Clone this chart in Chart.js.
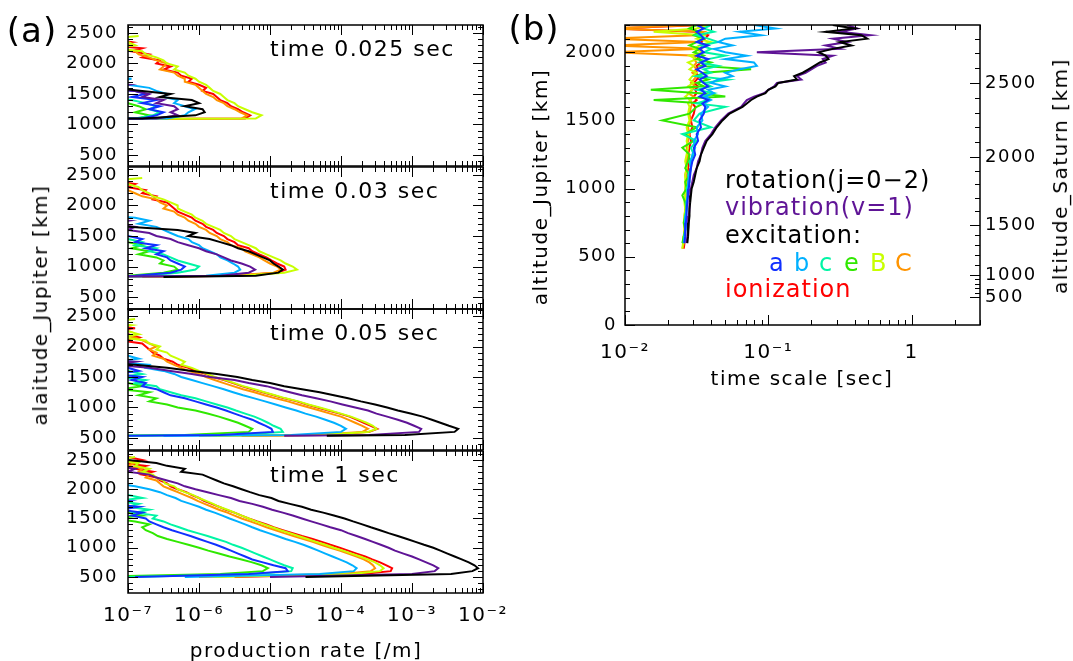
<!DOCTYPE html>
<html>
<head>
<meta charset="utf-8">
<script src="https://cdn.jsdelivr.net/npm/chart.js@4.4.0/dist/chart.umd.min.js"></script>
<style>
  body { margin: 0; background: #fff; width: 1073px; height: 661px; position: relative; overflow: hidden;
         font-family: "DejaVu Sans", sans-serif; }
  canvas { position: absolute; }
  .t { position: absolute; white-space: nowrap; font-size: 20px; letter-spacing: 1.5px; color: #000;
       line-height: 1; transform: translate(-50%, -50%); z-index: 5; }
  .v { transform: translate(-50%, -50%) rotate(-90deg); }
</style>
</head>
<body>
<canvas id="p1" width="520" height="180" style="left:0;top:0"></canvas>
<canvas id="p2" width="520" height="175" style="left:0;top:150px"></canvas>
<canvas id="p3" width="520" height="170" style="left:0;top:295px"></canvas>
<canvas id="p4" width="520" height="221" style="left:0;top:440px"></canvas>
<canvas id="pb" width="573" height="400" style="left:500px;top:0"></canvas>

<div class="t" style="left:32px;top:30px;font-size:34px;letter-spacing:1px">(a)</div>
<div class="t" style="left:534px;top:28px;font-size:34px;letter-spacing:1px">(b)</div>
<div class="t v" style="left:40px;top:305px">alaitude_Jupiter [km]</div>
<div class="t" style="left:306px;top:650px">production rate [/m]</div>
<div class="t v" style="left:540px;top:187px">altitude_Jupiter [km]</div>
<div class="t v" style="left:1060px;top:176px">altitude_Saturn [km]</div>
<div class="t" style="left:802px;top:378px">time scale [sec]</div>

<script>
// series order: rotation, vibration, a, b, c, e, B, C, ionization
const seriesColors = ['#000000', '#5f1496', '#1030ff', '#00b0ff', '#00f5a5', '#30e800', '#c8ff00', '#ff9400', '#ff0000'];
const panelTimes = ['time 0.025 sec', 'time 0.03 sec', 'time 0.05 sec', 'time 1 sec'];
const altTicks = [500, 1000, 1500, 2000, 2500];
const altTicksB = [0, 500, 1000, 1500, 2000];

// (a) production rate, values are log10 of rate [/m]
const alt1 = [2450, 2400, 2350, 2300, 2250, 2200, 2150, 2100, 2050, 2000, 1950, 1900, 1850, 1800, 1750, 1700, 1650, 1600, 1550, 1500, 1450, 1400, 1350, 1300, 1250, 1200, 1150, 1100, 1090];
const rot1 = [-7.6,-7.6,-7.6,-7.6,-7.6,-7.6,-7.6,-7.6,-7.6,-7.6,-7.6,-7.6,-7.6,-7.6,-7.6,-7.6,-7.6,-7.2,-6.8,-6.4,-6.55,-6.1,-6.0,-6.2,-5.95,-5.92,-6.05,-6.8,-7.6];
const vib1 = [-7.6,-7.6,-7.6,-7.6,-7.6,-7.6,-7.6,-7.6,-7.6,-7.6,-7.6,-7.6,-7.6,-7.6,-7.6,-7.6,-7.0,-7.3,-6.9,-6.7,-6.8,-6.5,-6.6,-6.35,-6.3,-6.4,-6.3,-6.6,-7.6];
const exa1 = [-7.6,-7.6,-7.6,-7.6,-7.6,-7.6,-7.6,-7.6,-7.6,-7.6,-7.6,-7.6,-7.6,-7.6,-7.6,-7.6,-7.6,-7.6,-6.9,-6.75,-6.95,-6.6,-6.8,-6.55,-6.7,-6.5,-6.6,-6.8,-7.6];
const exb1 = [-7.6,-7.6,-7.6,-7.6,-7.6,-7.6,-7.6,-7.6,-7.6,-7.6,-7.6,-7.6,-7.6,-7.6,-6.95,-7.3,-7.0,-6.7,-6.6,-6.45,-6.5,-6.3,-6.35,-6.2,-6.06,-6.15,-6.2,-6.45,-7.6];
const exc1 = [-7.6,-7.6,-7.6,-7.6,-7.6,-7.6,-7.6,-7.6,-7.6,-7.6,-7.6,-7.6,-7.6,-7.6,-7.6,-7.6,-7.6,-7.6,-7.6,-7.6,-7.6,-6.95,-6.75,-6.6,-6.7,-6.55,-6.65,-6.9,-7.6];
const exe1 = [-7.6,-7.6,-7.6,-7.6,-7.6,-7.6,-7.6,-7.6,-7.6,-7.6,-7.6,-7.6,-7.6,-7.6,-7.6,-7.6,-7.6,-7.6,-7.6,-7.6,-7.6,-7.6,-7.0,-6.85,-6.75,-6.9,-6.7,-6.85,-7.6];
const exB1 = [-6.85,-7.3,-7.0,-6.9,-7.2,-6.8,-6.75,-6.6,-6.5,-6.45,-6.3,-6.35,-6.2,-6.15,-6.05,-6.0,-5.9,-5.85,-5.8,-5.7,-5.65,-5.6,-5.5,-5.45,-5.35,-5.25,-5.12,-5.2,-7.5];
const exC1 = [-7.6,-7.5,-7.2,-7.0,-7.3,-6.9,-6.85,-6.7,-6.6,-6.45,-6.5,-6.55,-6.35,-6.3,-6.2,-6.2,-6.05,-6.0,-5.95,-5.9,-5.8,-5.75,-5.65,-5.6,-5.5,-5.42,-5.32,-5.4,-7.5];
const ion1 = [-7.6,-7.2,-6.95,-7.3,-6.8,-6.95,-6.7,-6.8,-6.55,-6.6,-6.4,-6.5,-6.3,-6.25,-6.1,-6.15,-6.0,-5.9,-5.95,-5.8,-5.75,-5.7,-5.6,-5.55,-5.45,-5.38,-5.28,-5.35,-6.75];

const alt2 = [2450, 2400, 2350, 2300, 2250, 2200, 2150, 2100, 2050, 2000, 1950, 1900, 1850, 1800, 1750, 1700, 1650, 1600, 1550, 1500, 1450, 1400, 1350, 1300, 1250, 1200, 1150, 1100, 1050, 1000, 950, 900, 850, 830];
const rot2 = [-7.6,-7.6,-7.6,-7.6,-7.6,-7.6,-7.6,-7.6,-7.6,-7.6,-7.6,-7.6,-7.6,-7.6,-7.6,-7.6,-7.0,-6.3,-6.05,-6.15,-5.85,-5.7,-5.55,-5.45,-5.3,-5.2,-5.1,-5.0,-4.95,-4.88,-4.82,-4.88,-5.2,-6.5];
const vib2 = [-7.6,-7.6,-7.6,-7.6,-7.6,-7.6,-7.6,-7.6,-7.6,-7.6,-7.6,-7.6,-7.6,-7.6,-7.0,-7.3,-6.9,-7.0,-6.7,-6.6,-6.4,-6.3,-6.15,-6.0,-5.9,-5.75,-5.65,-5.55,-5.4,-5.28,-5.21,-5.3,-5.7,-7.6];
const exa2 = [-7.6,-7.6,-7.6,-7.6,-7.6,-7.6,-7.6,-7.6,-7.6,-7.6,-7.6,-7.6,-7.6,-7.6,-7.6,-7.6,-7.6,-7.6,-7.6,-7.0,-6.8,-6.9,-6.6,-6.75,-6.5,-6.6,-6.45,-6.4,-6.3,-6.2,-6.25,-6.4,-6.9,-7.6];
const exb2 = [-7.6,-7.6,-7.6,-7.6,-7.6,-7.6,-7.6,-7.6,-7.6,-7.6,-7.6,-7.6,-7.6,-6.9,-6.7,-6.85,-6.6,-6.5,-6.4,-6.3,-6.15,-6.1,-6.0,-5.95,-5.85,-5.75,-5.7,-5.6,-5.52,-5.45,-5.42,-5.5,-5.9,-7.6];
const exc2 = [-7.6,-7.6,-7.6,-7.6,-7.6,-7.6,-7.6,-7.6,-7.6,-7.6,-7.6,-7.6,-7.6,-7.6,-7.6,-7.6,-7.6,-7.6,-7.6,-7.6,-7.0,-6.8,-6.9,-6.6,-6.7,-6.5,-6.4,-6.3,-6.15,-6.0,-6.05,-6.3,-6.8,-7.6];
const exe2 = [-7.6,-7.6,-7.6,-7.6,-7.6,-7.6,-7.6,-7.6,-7.6,-7.6,-7.6,-7.6,-7.6,-7.6,-7.6,-7.6,-7.6,-7.6,-7.6,-7.6,-7.6,-7.0,-6.8,-6.95,-6.7,-6.85,-6.6,-6.5,-6.55,-6.35,-6.3,-6.5,-7.0,-7.6];
const exB2 = [-6.8,-7.3,-7.0,-6.85,-6.8,-6.7,-6.65,-6.5,-6.4,-6.3,-6.3,-6.2,-6.1,-6.05,-5.95,-5.9,-5.8,-5.7,-5.65,-5.55,-5.5,-5.4,-5.3,-5.2,-5.15,-5.05,-4.95,-4.85,-4.78,-4.68,-4.62,-4.8,-5.4,-7.6];
const exC2 = [-7.6,-7.6,-7.3,-7.1,-7.0,-6.9,-6.8,-6.6,-6.55,-6.45,-6.5,-6.35,-6.3,-6.2,-6.15,-6.05,-6.0,-5.9,-5.85,-5.75,-5.7,-5.6,-5.55,-5.4,-5.35,-5.25,-5.15,-5.08,-5.0,-4.9,-4.85,-4.95,-5.6,-7.6];
const ion2 = [-7.6,-7.2,-6.9,-7.0,-6.75,-6.8,-6.6,-6.65,-6.45,-6.4,-6.35,-6.3,-6.2,-6.1,-6.05,-5.95,-5.9,-5.8,-5.75,-5.65,-5.6,-5.5,-5.45,-5.3,-5.25,-5.15,-5.05,-4.98,-4.9,-4.8,-4.78,-4.9,-5.5,-6.8];

const alt3 = [2450, 2400, 2350, 2300, 2250, 2200, 2150, 2100, 2050, 2000, 1950, 1900, 1850, 1800, 1750, 1700, 1650, 1600, 1550, 1500, 1450, 1400, 1350, 1300, 1250, 1200, 1150, 1100, 1050, 1000, 950, 900, 850, 800, 750, 700, 650, 600, 550, 535];
const rot3 = [-7.6,-7.6,-7.6,-7.6,-7.6,-7.6,-7.6,-7.6,-7.6,-7.6,-7.6,-7.6,-7.6,-7.6,-7.6,-6.9,-6.45,-6.1,-5.75,-5.46,-5.25,-5.0,-4.8,-4.55,-4.3,-4.1,-3.9,-3.72,-3.52,-3.35,-3.2,-3.02,-2.85,-2.72,-2.6,-2.48,-2.35,-2.4,-3.1,-4.2];
const vib3 = [-7.6,-7.6,-7.6,-7.6,-7.6,-7.6,-7.6,-7.6,-7.6,-7.6,-7.6,-7.6,-7.6,-7.6,-6.9,-7.2,-6.7,-6.4,-6.1,-5.85,-5.5,-5.3,-5.05,-4.88,-4.72,-4.55,-4.35,-4.15,-3.98,-3.8,-3.62,-3.5,-3.35,-3.2,-3.07,-2.97,-2.87,-2.9,-3.6,-4.8];
const exa3 = [-7.6,-7.6,-7.6,-7.6,-7.6,-7.6,-7.6,-7.6,-7.6,-7.6,-7.6,-7.6,-7.6,-7.6,-7.6,-7.6,-7.0,-6.85,-7.2,-6.8,-6.95,-6.75,-6.8,-6.6,-6.5,-6.4,-6.2,-6.05,-5.9,-5.75,-5.62,-5.5,-5.38,-5.25,-5.16,-5.06,-4.98,-4.96,-5.7,-7.0];
const exb3 = [-7.6,-7.6,-7.6,-7.6,-7.6,-7.6,-7.6,-7.6,-7.6,-7.6,-7.6,-7.6,-7.0,-6.85,-7.2,-6.7,-6.75,-6.5,-6.35,-6.25,-6.1,-5.95,-5.8,-5.65,-5.52,-5.38,-5.22,-5.07,-4.92,-4.78,-4.63,-4.5,-4.35,-4.22,-4.1,-4.0,-3.93,-4.0,-4.7,-6.5];
const exc3 = [-7.6,-7.6,-7.6,-7.6,-7.6,-7.6,-7.6,-7.6,-7.6,-7.6,-7.6,-7.6,-7.6,-7.6,-7.6,-7.6,-7.6,-7.0,-6.8,-7.1,-6.75,-6.9,-6.6,-6.55,-6.4,-6.25,-6.05,-5.9,-5.75,-5.6,-5.48,-5.35,-5.22,-5.12,-5.03,-4.95,-4.85,-4.82,-5.5,-7.3];
const exe3 = [-7.6,-7.6,-7.6,-7.6,-7.6,-7.6,-7.6,-7.6,-7.6,-7.6,-7.6,-7.6,-7.6,-7.6,-7.6,-7.6,-7.6,-7.6,-7.6,-7.6,-7.6,-7.0,-6.8,-7.1,-6.7,-6.85,-6.6,-6.7,-6.45,-6.3,-6.05,-5.88,-5.72,-5.58,-5.45,-5.35,-5.25,-5.3,-6.2,-7.6];
const exB3 = [-6.9,-7.3,-6.95,-7.2,-7.0,-6.85,-7.1,-6.75,-6.7,-6.55,-6.6,-6.45,-6.4,-6.3,-6.2,-6.25,-6.1,-6.0,-5.88,-5.78,-5.63,-5.5,-5.38,-5.22,-5.08,-4.93,-4.78,-4.6,-4.46,-4.3,-4.15,-4.0,-3.86,-3.75,-3.64,-3.55,-3.5,-3.62,-4.3,-5.8];
const exC3 = [-7.6,-7.6,-7.6,-7.2,-7.0,-7.3,-6.9,-6.8,-6.7,-6.6,-6.7,-6.6,-6.65,-6.5,-6.45,-6.35,-6.25,-6.15,-6.0,-5.9,-5.78,-5.65,-5.52,-5.38,-5.22,-5.08,-4.92,-4.75,-4.6,-4.45,-4.3,-4.15,-4.0,-3.9,-3.8,-3.7,-3.62,-3.7,-4.4,-6.0];
const ion3 = [-7.6,-7.2,-7.4,-6.9,-7.3,-7.0,-6.85,-7.1,-6.8,-6.75,-6.7,-6.65,-6.55,-6.5,-6.37,-6.3,-6.15,-6.05,-5.9,-5.8,-5.65,-5.52,-5.4,-5.25,-5.1,-4.95,-4.8,-4.62,-4.48,-4.33,-4.18,-4.02,-3.88,-3.78,-3.68,-3.58,-3.49,-3.6,-4.2,-5.4];

const alt4 = [2550, 2500, 2450, 2400, 2350, 2300, 2250, 2200, 2150, 2100, 2050, 2000, 1950, 1900, 1850, 1800, 1750, 1700, 1650, 1600, 1550, 1500, 1450, 1400, 1350, 1300, 1250, 1200, 1150, 1100, 1050, 1000, 950, 900, 850, 800, 750, 700, 650, 600, 550, 500];
const rot4 = [-7.6,-7.0,-6.6,-6.45,-6.2,-6.25,-5.95,-5.85,-5.75,-5.65,-5.52,-5.4,-5.28,-5.15,-4.98,-4.88,-4.72,-4.55,-4.42,-4.25,-4.1,-3.95,-3.83,-3.7,-3.58,-3.45,-3.33,-3.2,-3.07,-2.95,-2.83,-2.7,-2.6,-2.5,-2.4,-2.3,-2.2,-2.12,-2.07,-2.15,-2.45,-4.5];
const vib4 = [-7.6,-7.6,-7.6,-7.2,-6.9,-7.0,-6.7,-6.6,-6.45,-6.3,-6.2,-6.05,-5.88,-5.72,-5.55,-5.43,-5.25,-5.1,-4.97,-4.82,-4.68,-4.55,-4.42,-4.28,-4.15,-4.0,-3.9,-3.78,-3.66,-3.55,-3.44,-3.33,-3.24,-3.12,-3.0,-2.9,-2.8,-2.7,-2.63,-2.68,-3.0,-5.0];
const exa4 = [-7.6,-7.6,-7.6,-7.6,-7.6,-7.6,-7.6,-7.6,-7.6,-7.6,-7.6,-7.6,-7.6,-7.6,-7.6,-7.0,-7.3,-6.85,-7.1,-6.8,-6.95,-6.75,-6.7,-6.6,-6.5,-6.38,-6.25,-6.12,-6.0,-5.88,-5.76,-5.65,-5.55,-5.45,-5.35,-5.25,-5.1,-4.95,-4.78,-4.75,-5.3,-6.9];
const exb4 = [-7.6,-7.6,-7.6,-7.6,-7.6,-7.6,-7.6,-7.6,-7.6,-7.2,-6.9,-6.7,-6.55,-6.45,-6.33,-6.25,-6.12,-6.0,-5.9,-5.78,-5.67,-5.57,-5.46,-5.35,-5.25,-5.14,-5.02,-4.9,-4.78,-4.65,-4.53,-4.42,-4.32,-4.22,-4.12,-4.02,-3.92,-3.84,-3.78,-3.82,-4.3,-6.2];
const exc4 = [-7.6,-7.6,-7.6,-7.6,-7.6,-7.6,-7.6,-7.6,-7.6,-7.6,-7.6,-7.6,-7.6,-7.0,-6.8,-7.2,-6.85,-7.0,-6.7,-6.9,-6.6,-6.65,-6.5,-6.4,-6.28,-6.16,-6.02,-5.88,-5.75,-5.62,-5.52,-5.4,-5.3,-5.2,-5.1,-5.0,-4.9,-4.8,-4.68,-4.7,-5.2,-7.0];
const exe4 = [-7.6,-7.6,-7.6,-7.6,-7.6,-7.6,-7.6,-7.6,-7.6,-7.6,-7.6,-7.6,-7.6,-7.6,-7.6,-7.6,-7.6,-7.6,-7.6,-7.0,-6.8,-7.2,-6.9,-6.7,-6.8,-6.75,-6.65,-6.58,-6.45,-6.3,-6.15,-6.0,-5.87,-5.72,-5.57,-5.4,-5.25,-5.12,-5.03,-5.1,-5.7,-7.6];
const exB4 = [-6.9,-7.2,-6.85,-6.9,-6.7,-6.8,-6.65,-6.6,-6.5,-6.48,-6.35,-6.3,-6.2,-6.08,-6.0,-5.9,-5.8,-5.72,-5.6,-5.5,-5.4,-5.3,-5.2,-5.08,-4.97,-4.85,-4.72,-4.6,-4.47,-4.35,-4.22,-4.1,-3.97,-3.85,-3.73,-3.62,-3.52,-3.45,-3.4,-3.45,-3.85,-5.8];
const exC4 = [-7.6,-7.2,-6.9,-7.0,-6.8,-6.85,-6.7,-6.75,-6.6,-6.55,-6.5,-6.4,-6.3,-6.2,-6.1,-6.02,-5.92,-5.82,-5.72,-5.6,-5.5,-5.4,-5.28,-5.16,-5.05,-4.92,-4.8,-4.67,-4.53,-4.4,-4.28,-4.15,-4.02,-3.9,-3.78,-3.68,-3.6,-3.55,-3.52,-3.58,-4.0,-6.0];
const ion4 = [-7.0,-6.8,-7.1,-6.75,-6.9,-6.65,-6.8,-6.6,-6.55,-6.45,-6.4,-6.3,-6.18,-6.1,-6.0,-5.93,-5.82,-5.72,-5.62,-5.5,-5.4,-5.3,-5.18,-5.05,-4.95,-4.82,-4.68,-4.55,-4.4,-4.27,-4.15,-4.02,-3.9,-3.78,-3.66,-3.56,-3.45,-3.36,-3.28,-3.3,-3.7,-5.5];

// (b) time scale, values are log10 of seconds
const altB = [2200, 2175, 2150, 2125, 2100, 2075, 2050, 2025, 2000, 1975, 1950, 1925, 1900, 1875, 1850, 1825, 1800, 1775, 1750, 1725, 1700, 1675, 1650, 1625, 1600, 1550, 1500, 1450, 1400, 1350, 1300, 1250, 1200, 1150, 1100, 1050, 1000, 950, 900, 850, 800, 750, 700, 650, 600, 560];
const rotB = [-0.55,-0.4,-0.6,-0.35,-0.31,-0.5,-0.42,-0.55,-0.65,-0.6,-0.58,-0.64,-0.68,-0.72,-0.76,-0.82,-0.8,-0.93,-0.95,-1.0,-1.02,-1.08,-1.12,-1.15,-1.18,-1.27,-1.32,-1.36,-1.39,-1.43,-1.45,-1.47,-1.48,-1.5,-1.51,-1.52,-1.535,-1.54,-1.545,-1.55,-1.55,-1.555,-1.56,-1.56,-1.565,null];
const vibB = [-0.45,-0.38,-0.5,-0.29,-0.55,-0.45,-0.6,-0.5,-1.08,-0.55,-0.62,-0.6,-0.66,-0.7,-0.74,-0.8,-0.77,-0.94,-0.96,-1.0,-1.03,-1.1,-1.15,-1.17,-1.19,-1.28,-1.33,-1.37,-1.4,-1.44,-1.46,-1.47,-1.49,-1.5,-1.52,-1.53,-1.54,-1.545,-1.55,-1.55,-1.555,-1.56,-1.56,-1.565,-1.57,null];
const exaB = [-1.5,-1.45,-1.5,-1.47,-1.45,-1.5,-1.42,-1.48,-1.45,-1.5,-1.42,-1.47,-1.44,-1.5,-1.46,-1.43,-1.48,-1.45,-1.42,-1.47,-1.44,-1.48,-1.42,-1.46,-1.44,-1.45,-1.48,-1.47,-1.5,-1.49,-1.52,-1.51,-1.53,-1.54,-1.545,-1.55,-1.555,-1.56,-1.565,-1.57,-1.57,-1.575,-1.58,-1.58,-1.585,null];
const exbB = [-1.1,-0.95,-1.2,-1.05,-1.3,-1.35,-1.25,-1.38,-1.3,-1.15,-1.3,-1.1,-1.08,-1.2,-1.3,-1.25,-1.35,-1.4,-1.3,-1.42,-1.38,-1.44,-1.4,-1.45,-1.42,-1.47,-1.46,-1.5,-1.49,-1.52,-1.51,-1.53,-1.54,-1.54,-1.55,-1.56,-1.56,-1.565,-1.57,-1.57,-1.575,-1.58,-1.58,-1.585,-1.59,null];
const excB = [-1.4,-1.45,-1.38,-1.5,-1.42,-1.35,-1.47,-1.4,-1.45,-1.3,-1.42,-1.48,-1.35,-1.45,-1.4,-1.5,-1.28,-1.45,-1.4,-1.5,-1.38,-1.46,-1.42,-1.5,-1.3,-1.48,-1.52,-1.4,-1.6,-1.5,-1.54,-1.52,-1.55,-1.54,-1.56,-1.55,-1.57,-1.56,-1.57,-1.57,-1.58,-1.575,-1.58,-1.585,-1.59,null];
const exeB = [-1.5,-1.55,-1.48,-1.52,-1.45,-1.5,-1.55,-1.48,-1.52,-1.45,-1.5,-1.4,-1.47,-1.12,-1.45,-1.5,-1.42,-1.5,-1.45,-1.82,-1.48,-1.3,-1.8,-1.45,-1.5,-1.55,-1.74,-1.5,-1.58,-1.52,-1.6,-1.55,-1.56,-1.58,-1.55,-1.58,-1.57,-1.6,-1.58,-1.57,-1.58,-1.59,-1.58,-1.59,-1.6,null];
const exBB = [-1.42,-1.5,-1.8,-1.45,-1.5,-1.4,-1.48,-1.52,-1.45,-1.55,-1.5,-1.56,-1.52,-1.55,-1.5,-1.53,-1.55,-1.52,-1.56,-1.53,-1.55,-1.58,-1.54,-1.56,-1.55,-1.56,-1.55,-1.57,-1.56,-1.57,-1.56,-1.57,-1.58,-1.57,-1.58,-1.575,-1.58,-1.58,-1.585,-1.58,-1.585,-1.59,-1.585,-1.59,-1.595,-1.6];
const exCB = [-1.5,-2.1,-1.45,-1.5,-2.1,-1.48,-2.1,-1.46,-2.1,-1.5,-1.52,-1.5,-1.52,-1.5,-1.53,-1.5,-1.52,-1.54,-1.51,-1.53,-1.56,-1.52,-1.55,-1.53,-1.54,-1.55,-1.54,-1.56,-1.55,-1.56,-1.57,-1.56,-1.57,-1.57,-1.58,-1.57,-1.58,-1.575,-1.58,-1.58,-1.585,-1.58,-1.585,-1.59,-1.59,-1.6];
const ionB = [-1.45,-2.1,-1.5,-1.42,-1.44,-1.47,-1.45,-1.48,-1.46,-1.5,-1.48,-1.47,-1.5,-1.49,-1.51,-1.48,-1.5,-1.52,-1.49,-1.51,-1.5,-1.52,-1.5,-1.53,-1.51,-1.52,-1.54,-1.53,-1.55,-1.54,-1.55,-1.56,-1.55,-1.56,-1.565,-1.57,-1.56,-1.57,-1.57,-1.575,-1.58,-1.58,-1.58,-1.585,-1.585,-1.59];

// right axis of (b): Saturn altitude labels and where they sit on the Jupiter axis
const saturnLabels = [500, 1000, 1500, 2000, 2500];
const saturnAtJupiter = [205, 367, 733, 1232, 1775];

const legendText = ['rotation(j=0\u22122)', 'vibration(v=1)', 'excitation:', 'a', 'b', 'c', 'e', 'B', 'C', 'ionization'];
const legendColor = ['#000000', '#5f1496', '#000000', '#1030ff', '#00b0ff', '#00f5a5', '#30e800', '#c8ff00', '#ff9400', '#ff0000'];

Chart.defaults.font.family = '"DejaVu Sans", sans-serif';
Chart.defaults.font.size = 18;
Chart.defaults.color = '#000';

const sup = { '-': '\u207B', '0': '\u2070', '1': '\u00B9', '2': '\u00B2', '3': '\u00B3', '4': '\u2074',
              '5': '\u2075', '6': '\u2076', '7': '\u2077', '8': '\u2078', '9': '\u2079' };
function powLabel(v) {
  const l = Math.log10(v);
  const e = Math.round(l);
  if (Math.abs(l - e) > 1e-6) return '';
  if (e === 0) return '1';
  return '10' + String(e).split('').map(c => sup[c]).join('');
}

// box, inward ticks, panel notes, legend
const frame = {
  id: 'frame',
  beforeUpdate(chart) { chart.ctx.letterSpacing = '1.5px'; },
  beforeDraw(chart) { chart.ctx.letterSpacing = '1.5px'; },
  afterDatasetsDraw(chart, args, o) {
    const { ctx, chartArea: a } = chart;
    const xs = chart.scales.x, ys = chart.scales.y;
    ctx.save();
    ctx.strokeStyle = '#000';
    ctx.lineWidth = 1;
    ctx.beginPath();
    const lo = Math.floor(Math.log10(xs.min) + 1e-9), hi = Math.ceil(Math.log10(xs.max) - 1e-9);
    for (let e = lo; e <= hi; e++) {
      for (let k = 1; k <= 9; k++) {
        const v = k * Math.pow(10, e);
        if (v < xs.min * 0.999 || v > xs.max * 1.001) continue;
        const px = Math.round(xs.getPixelForValue(v)) + 0.5;
        const len = k === 1 ? 10 : 5;
        ctx.moveTo(px, a.bottom); ctx.lineTo(px, a.bottom - len);
        ctx.moveTo(px, a.top); ctx.lineTo(px, a.top + len);
      }
    }
    for (let v = Math.ceil(ys.min / 100) * 100; v <= ys.max; v += 100) {
      const py = Math.round(ys.getPixelForValue(v)) + 0.5;
      const len = v % 500 === 0 ? 10 : 5;
      ctx.moveTo(a.left, py); ctx.lineTo(a.left + len, py);
      if (!o.saturn) { ctx.moveTo(a.right, py); ctx.lineTo(a.right - len, py); }
    }
    if (o.saturn) {
      const pos = saturnAtJupiter;
      const tick = (v, len) => {
        if (v < ys.min || v > ys.max) return;
        const py = Math.round(ys.getPixelForValue(v)) + 0.5;
        ctx.moveTo(a.right, py); ctx.lineTo(a.right - len, py);
      };
      pos.forEach(v => tick(v, 10));
      for (let i = 0; i < pos.length; i++) {
        const step = i < pos.length - 1 ? (pos[i + 1] - pos[i]) / 5 : (pos[i] - pos[i - 1]) / 5;
        for (let k = 1; k < 5; k++) tick(pos[i] + k * step, 5);
      }
    }
    ctx.stroke();
    ctx.lineWidth = 1.5;
    ctx.strokeRect(a.left, a.top, a.right - a.left, a.bottom - a.top);

    ctx.textAlign = 'left';
    ctx.textBaseline = 'alphabetic';
    ctx.letterSpacing = '1.5px';
    if (o.note) {
      ctx.fillStyle = '#000';
      ctx.font = '22px "DejaVu Sans"';
      ctx.fillText(o.note, 270, a.top + 31);
    }
    if (o.legend) {
      const at = [[725, 188], [725, 215], [725, 243], [769, 271], [794, 271], [819, 271],
                  [844, 271], [870, 271], [895, 271], [725, 297]];
      ctx.font = '24px "DejaVu Sans"';
      ctx.letterSpacing = '1px';
      legendText.forEach((t, i) => {
        ctx.fillStyle = legendColor[i];
        ctx.fillText(t, at[i][0] - 500, at[i][1]);
      });
    }
    ctx.restore();
  }
};

function noPad(s) { s.paddingTop = 0; s.paddingBottom = 0; s.paddingLeft = 0; s.paddingRight = 0; }

function profileChart(id, alt, series, o) {
  const datasets = series.map((vals, i) => ({
    data: alt.map((h, k) => ({ x: vals[k] == null ? null : Math.pow(10, vals[k]), y: h })),
    borderColor: seriesColors[i],
    borderWidth: 2,
    pointRadius: 0,
    showLine: true,
    fill: false,
    tension: 0
  }));
  const scales = {
    x: {
      type: 'logarithmic', min: o.xMin, max: o.xMax, display: o.showX,
      grid: { display: false, drawTicks: false }, border: { display: false },
      ticks: { autoSkip: false, maxRotation: 0, padding: o.xPad, font: { size: 20 }, callback: v => powLabel(v) },
      afterFit: s => { s.height = o.xHeight; noPad(s); }
    },
    y: {
      type: 'linear', min: o.yMin, max: o.yMax,
      grid: { display: false, drawTicks: false }, border: { display: false },
      afterBuildTicks: s => { s.ticks = o.yTicks.map(v => ({ value: v })); },
      ticks: { autoSkip: false, padding: o.yPad, callback: v => String(v) },
      afterFit: s => { s.width = o.yWidth; noPad(s); }
    }
  };
  if (o.saturn) {
    scales.y2 = {
      type: 'linear', position: 'right', min: o.yMin, max: o.yMax,
      grid: { display: false, drawTicks: false }, border: { display: false },
      afterBuildTicks: s => { s.ticks = saturnAtJupiter.map(v => ({ value: v })); },
      ticks: { autoSkip: false, padding: 5, callback: (v, i) => String(saturnLabels[i]) },
      afterFit: s => { s.width = 93; noPad(s); }
    };
  }
  return new Chart(document.getElementById(id), {
    type: 'scatter',
    data: { datasets },
    options: {
      responsive: false,
      animation: false,
      events: [],
      layout: { padding: o.padding },
      plugins: {
        legend: { display: false },
        tooltip: { enabled: false },
        frame: { note: o.note, saturn: !!o.saturn, legend: !!o.legend }
      },
      scales
    },
    plugins: [frame]
  });
}

const leftBase = { xMin: 1e-7, xMax: 1e-2, yWidth: 128, yPad: 10, yTicks: altTicks };

profileChart('p1', alt1, [rot1, vib1, exa1, exb1, exc1, exe1, exB1, exC1, ion1], Object.assign({}, leftBase, {
  showX: false, xHeight: 0, xPad: 0, yMin: 320, yMax: 2630, note: panelTimes[0],
  padding: { top: 25, bottom: 14, left: 0, right: 37 }
}));
profileChart('p2', alt2, [rot2, vib2, exa2, exb2, exc2, exe2, exB2, exC2, ion2], Object.assign({}, leftBase, {
  showX: false, xHeight: 0, xPad: 0, yMin: 305, yMax: 2630, note: panelTimes[1],
  padding: { top: 17, bottom: 16, left: 0, right: 37 }
}));
profileChart('p3', alt3, [rot3, vib3, exa3, exb3, exc3, exe3, exB3, exC3, ion3], Object.assign({}, leftBase, {
  showX: false, xHeight: 0, xPad: 0, yMin: 303, yMax: 2615, note: panelTimes[2],
  padding: { top: 14, bottom: 15, left: 0, right: 37 }
}));
profileChart('p4', alt4, [rot4, vib4, exa4, exb4, exc4, exe4, exB4, exC4, ion4], Object.assign({}, leftBase, {
  showX: true, xHeight: 68, xPad: 11, yMin: 226, yMax: 2654, note: panelTimes[3],
  padding: { top: 11, bottom: 0, left: 0, right: 37 }
}));
profileChart('pb', altB, [rotB, vibB, exaB, exbB, excB, exeB, exBB, exCB, ionB], {
  xMin: 0.01, xMax: 3, showX: true, xHeight: 75, xPad: 16,
  yMin: 0, yMax: 2200, yWidth: 125, yPad: 8, yTicks: altTicksB, saturn: true, legend: true,
  padding: { top: 25, bottom: 0, left: 0, right: 0 }
});
</script>
</body>
</html>
